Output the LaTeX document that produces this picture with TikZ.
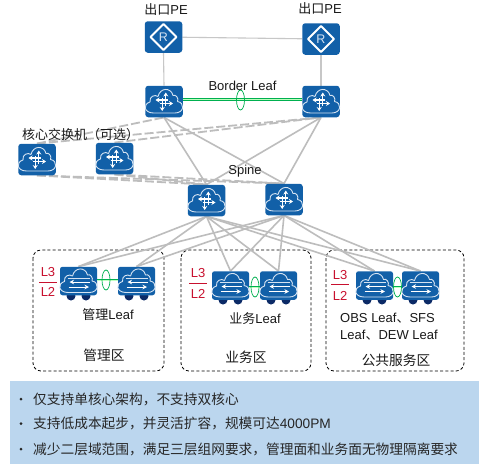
\documentclass[tikz,border=0pt]{standalone}
\usepackage{fontspec}
\setmainfont{Liberation Sans}
\newfontfamily\cjk{Noto Sans CJK SC}
\usetikzlibrary{shapes.geometric,arrows.meta}
\pgfdeclarelayer{bg}
\pgfdeclarelayer{links}
\pgfsetlayers{bg,links,main}
\newcommand{\Z}[1]{{\cjk #1}}
\definecolor{boxblue}{HTML}{1260A8}
\definecolor{wheelblue}{HTML}{0B2A66}
\definecolor{cloudline}{HTML}{D5E3F2}
\definecolor{linkgrey}{HTML}{BDBDBD}
\definecolor{linkgreen}{HTML}{00B050}
\definecolor{lredc}{HTML}{C8102E}
\definecolor{panelblue}{HTML}{BBD6EE}
\tikzset{
  x=1pt,y=-1pt,
  devbox/.style={fill=boxblue,rounded corners=3pt,inner sep=0pt,minimum width=37.5pt,minimum height=31.5pt},
  leafbox/.style={fill=boxblue,rounded corners=2.5pt,inner sep=0pt,minimum width=37pt,minimum height=28.5pt},
  lbl/.style={inner sep=0pt,text=black!90,font=\fontsize{13}{15}\selectfont},
  zonelbl/.style={inner sep=0pt,text=black!90,font=\fontsize{13.7}{16}\selectfont},
  redlbl/.style={inner sep=0pt,text=lredc,font=\fontsize{13}{15}\selectfont},
  redrule/.style={draw=lredc,line width=.8pt},
  zone/.style={draw=black,line width=.8pt,rounded corners=8pt,dash pattern=on 3pt off 2.2pt},
  glink/.style={draw=linkgrey,line width=1.6pt},
  pelink/.style={draw=linkgrey!85!white,line width=1.1pt},
  dlink/.style={draw=linkgrey,line width=1.8pt,dash pattern=on 9pt off 3pt},
  gnlink/.style={draw=linkgreen,double=green!25!white,double distance=.9pt,line width=.7pt},
  lagring/.style={draw=linkgreen,ellipse,line width=.7pt,inner sep=0pt,minimum width=8pt,minimum height=20pt},
  bulletlbl/.style={inner sep=0pt,anchor=west,text=black!85,font=\fontsize{13.7}{16}\selectfont},
  cloudpath/.pic={
    \draw[cloudline,line width=.9pt,line join=round]
      (-10.5,11.5) .. controls (-20,11.5) and (-21.5,2.5) .. (-14,0.5)
      .. controls (-15,-5) and (-9,-7.5) .. (-6,-5)
      .. controls (-4,-14) and (7,-14.5) .. (9,-6)
      .. controls (12,-7.5) and (15,-3) .. (13.5,0)
      .. controls (21,1) and (20.5,11.5) .. (11,11.5) -- cycle;
  },
  routericon/.pic={
    \pic {cloudpath};
    \begin{scope}[white,line width=1.1pt,-{Stealth[length=4pt,width=5pt]}]
      \draw (4,-1.5) -- (-8.5,-1.5);
      \draw (-4,2) -- (9,2);
      \draw (1.8,4) -- (1.8,-9);
      \draw (-1.8,-3.5) -- (-1.8,9.5);
    \end{scope}
  },
  leaficon/.pic={
    \pic {cloudpath};
    \draw[cloudline,line width=.6pt] (-11,-3) -- (11,-3);
    \begin{scope}[white,line width=.9pt,-{Stealth[length=4.5pt,width=4.5pt]}]
      \draw (11.5,1) -- (-9,1);
      \draw (-10,6) -- (10.5,6);
    \end{scope}
  },
  peicon/.pic={
    \draw[white,line width=1.8pt,line join=round] (0,-13) -- (13,0) -- (0,13) -- (-13,0) -- cycle;
    \node[inner sep=0pt,text=cloudline,font=\fontsize{12.5}{13}\selectfont] at (0,0) {R};
  },
}
\begin{document}
\begin{tikzpicture}
\useasboundingbox (0,0) rectangle (486,469);
\begin{pgfonlayer}{bg}
\fill[white] (0,0) rectangle (486,469);
\draw[zone] (33,250) rectangle (164,371);
\draw[zone] (181,250) rectangle (311,371);
\draw[zone] (326,250) rectangle (464,371);
\end{pgfonlayer}
\node[fill=panelblue,inner sep=0pt,minimum width=469pt,minimum height=83pt] (panel) at (244.5,422.5) {};

% wheels
\foreach \cx/\cy in {71/296,86/296,129/296,144/296,223/300,238/300,271/300,286/300,367/300,382/300,413/300,428/300}
  \fill[wheelblue] (\cx,\cy) circle (4.5);

% devices
\node[devbox] (pe1) at (163.5,37) {}; \pic at (pe1) {peicon};
\node[devbox] (pe2) at (321,39) {};   \pic at (pe2) {peicon};
\node[devbox] (bl1) at (164,101.5) {}; \pic at (bl1) {routericon};
\node[devbox] (bl2) at (321,101.5) {}; \pic at (bl2) {routericon};
\node[devbox] (core1) at (37,159.5) {}; \pic at (core1) {routericon};
\node[devbox] (core2) at (114.5,158.5) {}; \pic at (core2) {routericon};
\node[devbox] (sp1) at (206.5,200.5) {}; \pic at (sp1) {routericon};
\node[devbox] (sp2) at (284,199.5) {}; \pic at (sp2) {routericon};
\node[leafbox] (m1) at (78.5,281) {}; \pic at (m1) {leaficon};
\node[leafbox] (m2) at (136.5,281) {}; \pic at (m2) {leaficon};
\node[leafbox] (b1) at (230.5,285.5) {}; \pic at (b1) {leaficon};
\node[leafbox] (b2) at (278.5,285.5) {}; \pic at (b2) {leaficon};
\node[leafbox] (p1) at (374.5,285.5) {}; \pic at (p1) {leaficon};
\node[leafbox] (p2) at (420.5,285.5) {}; \pic at (p2) {leaficon};

% connectors
\begin{pgfonlayer}{links}
\draw[pelink] (pe1) -- (pe2);
\draw[pelink] (pe1.south) -- (bl1.north);
\draw[pelink] (pe2.south) -- (bl2.north);
\foreach \a in {bl1,bl2} \foreach \b in {sp1,sp2}
  \draw[glink] (\a.south) -- (\b.north);
\foreach \a in {core1,core2} {
  \foreach \b in {sp1,sp2} \draw[dlink] (\a.south) -- (\b.north);
  \draw[dlink] (\a.north) -- (bl2.south);
}
\draw[dlink] (core1.north) -- (bl1.south);
\foreach \a in {sp1,sp2} \foreach \b in {m1,m2,b1,b2,p1,p2}
  \draw[glink] (\a.south) -- (\b.north);
\end{pgfonlayer}

\draw[gnlink] ([yshift=2pt]bl1.east) -- ([yshift=2pt]bl2.west);
\node[lagring] (lag1) at (240.5,100) {};
\draw[gnlink] ([yshift=1pt]m1.east) -- ([yshift=1pt]m2.west);
\node[lagring] (lag2) at (106,280) {};
\draw[gnlink] ([yshift=-1.5pt]b1.east) -- ([yshift=-1.5pt]b2.west);
\node[lagring] (lag3) at (255,287) {};
\draw[gnlink] ([yshift=-1.5pt]p1.east) -- ([yshift=-1.5pt]p2.west);
\node[lagring] (lag4) at (397.5,287) {};

% labels
\node[lbl] (tpe1) at (166,10) {\Z{出口}PE};
\node[lbl] (tpe2) at (320,9) {\Z{出口}PE};
\node[lbl] (tbl) at (242.5,86) {Border Leaf};
\node[lbl] (tcore) at (80.5,135) {\Z{核心交换机（可选）}};
\node[lbl] (tsp) at (245,171.5) {Spine};
\node[lbl] (tm) at (108,315) {\Z{管理}Leaf};
\node[lbl] (tb) at (255,319) {\Z{业务}Leaf};
\node[lbl,align=left,anchor=north west,font=\fontsize{13}{17}\selectfont] (tp) at (340,313) {OBS Leaf\Z{、}SFS\\Leaf\Z{、}DEW Leaf};
\node[zonelbl] (zm) at (104,355) {\Z{管理区}};
\node[zonelbl] (zb) at (246,357) {\Z{业务区}};
\node[zonelbl] (zp) at (396,360) {\Z{公共服务区}};

% L3/L2
\node[redlbl] (l3a) at (48,272) {L3};
\node[redlbl] (l2a) at (48,292) {L2};
\draw[redrule] (39,282) -- (57,282);
\node[redlbl] (l3b) at (198,273) {L3};
\node[redlbl] (l2b) at (198,294) {L2};
\draw[redrule] (189,283) -- (207,283);
\node[redlbl] (l3c) at (340,275) {L3};
\node[redlbl] (l2c) at (340,296) {L2};
\draw[redrule] (331,284) -- (349,284);

% bullets
\node[bulletlbl] (b1l) at (33,399) {\Z{仅支持单核心架构，不支持双核心}};
\node[bulletlbl] (b2l) at (33,423.5) {\Z{支持低成本起步，并灵活扩容，规模可达}4000PM};
\node[bulletlbl] (b3l) at (33,449) {\Z{减少二层域范围，满足三层组网要求，管理面和业务面无物理隔离要求}};
\foreach \yy in {399,423.5,449} \fill[black!85] (21,\yy) circle (1.5);
\end{tikzpicture}
\end{document}
